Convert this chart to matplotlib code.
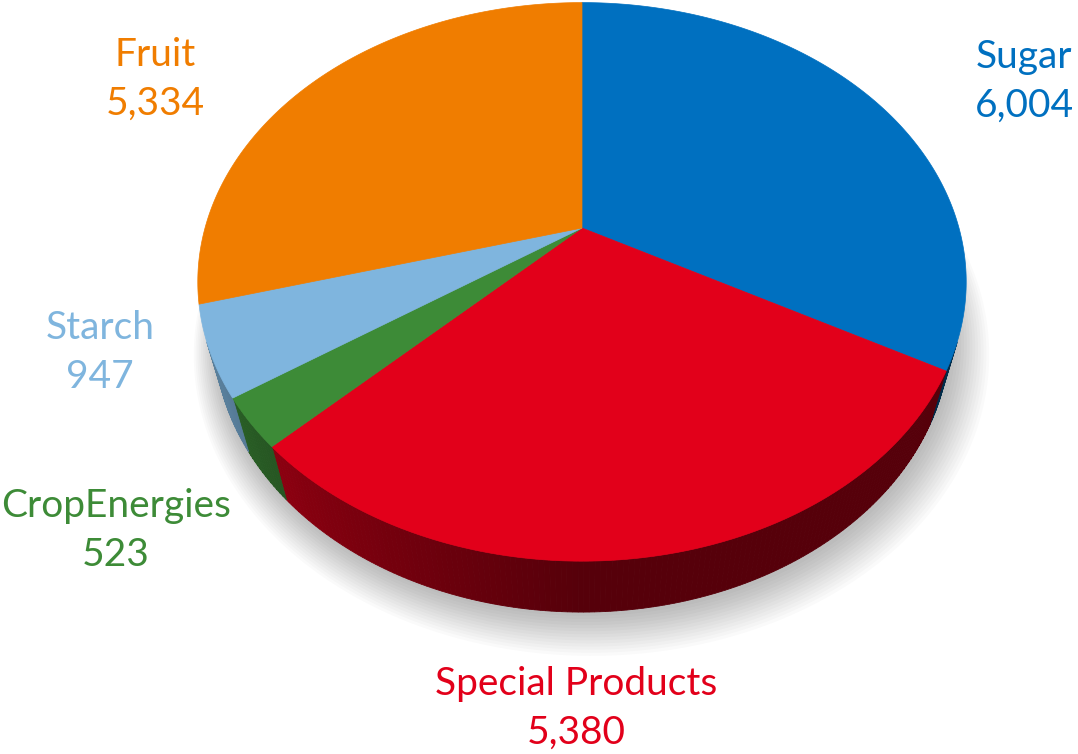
import numpy as np
import matplotlib
matplotlib.use("Agg")
import matplotlib.pyplot as plt
from matplotlib.patches import Polygon

# ---- data ----
categories = ["Sugar", "Special Products", "CropEnergies", "Starch", "Fruit"]
values = [6004, 5380, 523, 947, 5334]
value_labels = ["6,004", "5,380", "523", "947", "5,334"]
colors = ["#0070C0", "#E2001A", "#3D8B37", "#7FB5DE", "#F07D00"]

# ---- 3D perspective setup (pixel space) ----
W, H = 1078, 754
cx, cy = 582, 228
phi = np.radians(45.5)
cphi, sphi = np.cos(phi), np.sin(phi)
D = 3.634
f = 1370.0
depth = 0.2176


def proj(t, r=1.0, z=0.0):
    X = r * np.cos(t)
    Y = r * np.sin(t)
    yc = (Y + D * cphi) * sphi + (z - D * sphi) * cphi
    zc = (Y + D * cphi) * cphi - (z - D * sphi) * sphi
    return cx + f * X / zc, cy - f * yc / zc


fig = plt.figure(figsize=(W / 100, H / 100), dpi=100)
ax = fig.add_axes([0, 0, 1, 1])
ax.set_xlim(0, W)
ax.set_ylim(H, 0)
ax.axis("off")

# shadow
tt = np.linspace(0, 2 * np.pi, 400)
for k in range(14):
    s = 1.0 + 0.006 * k
    u, v = proj(tt, s, -depth)
    ax.add_patch(Polygon(np.column_stack([u + 3 + k * 0.5, v + 4 + k * 0.6]),
                         closed=True, facecolor="black", edgecolor="none",
                         alpha=0.018, zorder=0))

total = float(sum(values))
angles = np.cumsum([0] + [v / total * 360 for v in values])
starts = 90 - angles[:-1]
ends = 90 - angles[1:]

kvis = np.degrees(np.arcsin(1.0 / (D * cphi)))
vis_lo, vis_hi = -180 + kvis, -kvis


def shade(tdeg):
    return 0.38 + 0.32 * np.clip((-90 - tdeg) / 60.0, 0, 1)


# sides
for a0, a1, col in zip(starts, ends, colors):
    lo, hi = max(a1, vis_lo), min(a0, vis_hi)
    if hi <= lo:
        continue
    n = max(2, int((hi - lo) / 0.7) + 1)
    edges = np.linspace(lo, hi, n)
    rgb = np.array(matplotlib.colors.to_rgb(col))
    for e0, e1 in zip(edges[:-1], edges[1:]):
        ts = np.radians(np.linspace(e0, e1, 4))
        ut, vt = proj(ts, 1.0, 0.0)
        ub, vb = proj(ts[::-1], 1.0, -depth)
        c = rgb * shade(0.5 * (e0 + e1))
        ax.add_patch(Polygon(np.column_stack([np.r_[ut, ub], np.r_[vt, vb]]),
                             closed=True, facecolor=c, edgecolor=c,
                             linewidth=0.6, zorder=2))

# top faces
for a0, a1, col in zip(starts, ends, colors):
    ts = np.radians(np.linspace(a0, a1, 200))
    u, v = proj(ts)
    pts = np.vstack([[cx, cy], np.column_stack([u, v])])
    ax.add_patch(Polygon(pts, closed=True, facecolor=col, edgecolor=col,
                         linewidth=0.5, zorder=3))

# labels
label_pos = {
    "Sugar": (1024, 57),
    "Special Products": (576, 684),
    "CropEnergies": (116, 506),
    "Starch": (100, 328),
    "Fruit": (155, 55),
}
fam = ["Lato", "DejaVu Sans"]
for name, vl, col in zip(categories, value_labels, colors):
    x, y = label_pos[name]
    ax.text(x, y, name, color=col, fontsize=28, family=fam,
            ha="center", va="center", zorder=5)
    ax.text(x, y + 49, vl, color=col, fontsize=28, family=fam,
            ha="center", va="center", zorder=5)

fig.savefig("out.png", dpi=100, facecolor="white")
